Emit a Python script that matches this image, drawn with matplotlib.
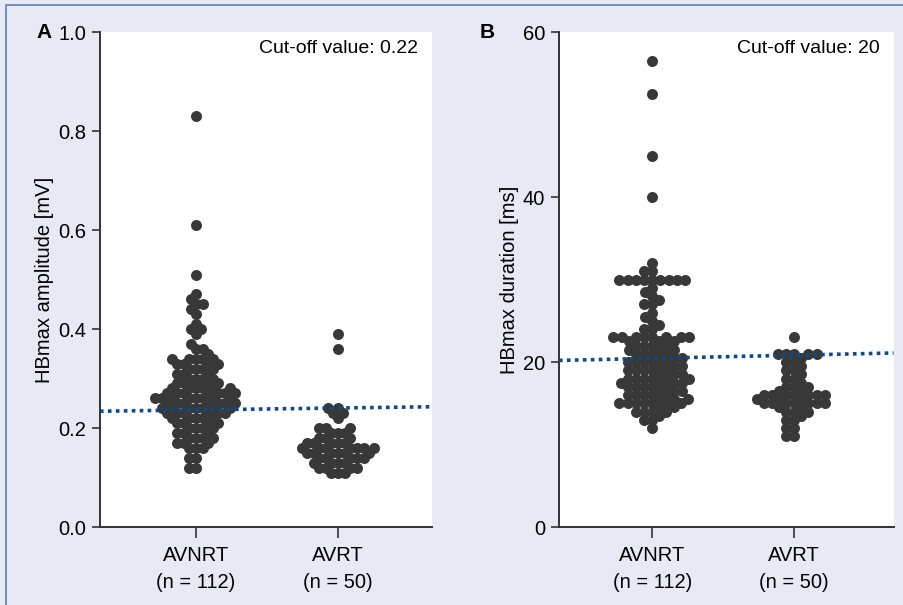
import matplotlib
matplotlib.use("Agg")
import numpy as np
import matplotlib.pyplot as plt
from matplotlib.patches import Rectangle

# data
groups = ["AVNRT", "AVRT"]
tick_labels = ["AVNRT\n(n = 112)", "AVRT\n(n = 50)"]

amp_avnrt = ([0.83, 0.61, 0.51]
             + [0.47, 0.46, 0.45, 0.45, 0.44, 0.43]
             + [0.41, 0.40, 0.40, 0.39]
             + [0.37, 0.36, 0.36, 0.35]
             + [0.34] * 5 + [0.33] * 4 + [0.32] * 4 + [0.31] * 3 + [0.30] * 4
             + [0.29] * 4 + [0.28] * 6 + [0.27] * 7 + [0.26] * 8 + [0.25] * 7
             + [0.24] * 7 + [0.23] * 6 + [0.22] * 5 + [0.21] * 4
             + [0.20] * 4 + [0.19] * 3 + [0.18] * 4 + [0.17] * 3 + [0.16] * 3
             + [0.14] * 2 + [0.12] * 2)
amp_avrt = ([0.39, 0.36]
            + [0.24] * 2 + [0.23] * 2 + [0.22]
            + [0.20] * 3 + [0.19] * 3 + [0.18] * 3
            + [0.17] * 5 + [0.16] * 7 + [0.15] * 6
            + [0.14] * 5 + [0.13] * 4 + [0.12] * 4 + [0.11] * 3)

dur_avnrt = ([56.5, 52.5, 45, 40]
             + [32, 31, 31] + [30] * 9
             + [29, 28.5, 28, 27.5, 27, 27, 26, 25.5, 25, 24.5, 24, 24]
             + [23] * 8 + [22.5] * 3 + [22] * 4 + [21.5] * 3 + [21] * 4
             + [20.5] * 3 + [20] * 5
             + [19.5] * 3 + [19] * 5 + [18.5] * 3 + [18] * 6 + [17.5] * 4
             + [17] * 5 + [16.5] * 3 + [16] * 5
             + [15.5] * 3 + [15] * 7 + [14.5] * 2 + [14] * 4 + [13.5, 13, 13, 12])
dur_avrt = ([23] + [21] * 5 + [20.5] + [20] * 2 + [19.5] + [19] * 2 + [18.5]
            + [18] * 2 + [17.5] + [17] * 3 + [16.5] * 2 + [16] * 7 + [15.5] * 3
            + [15] * 7 + [14.5] * 2 + [14] * 3 + [13.5] + [13] * 2 + [12] * 2 + [11] * 2)

amp_cutoff_line = [0.234, 0.243]
dur_cutoff_line = [20.2, 21.1]

plt.rcParams["font.family"] = ["Liberation Sans", "DejaVu Sans"]
DOT = "#383838"
LINE = "#0b4a8a"
BG = "#e7e9f5"
DOT_PX = 11.0    # marker diameter in pixels

fig = plt.figure(figsize=(9.04, 6.05), dpi=100, facecolor=BG)
fig.patches.append(Rectangle((0.007, -0.05), 1.2, 1.041, transform=fig.transFigure,
                             facecolor="none", edgecolor="#5a7fb8", lw=1.2))

ax1 = fig.add_axes([0.1106, 0.1289, 0.367, 0.818])
ax2 = fig.add_axes([0.6184, 0.1289, 0.370, 0.818])


def swarm_x(ax, values, centre, gap):
    # simple beeswarm: place each point as close to the centre as it can go
    ys = ax.transData.transform(np.column_stack([np.zeros(len(values)), values]))[:, 1]
    unit = ax.transData.transform((1, 0))[0] - ax.transData.transform((0, 0))[0]
    placed = []
    offs = np.zeros(len(values))
    for i in np.argsort(ys, kind="stable"):
        y = ys[i]
        near = [(px, py) for px, py in placed if abs(py - y) < gap]
        cands = [0.0]
        for px, py in near:
            dx = np.sqrt(gap ** 2 - (py - y) ** 2)
            cands += [px - dx, px + dx]
        cands.sort(key=lambda c: (abs(c), c))
        for c in cands:
            if all((c - px) ** 2 + (y - py) ** 2 >= gap ** 2 - 1e-6 for px, py in near):
                break
        placed.append((c, y))
        offs[i] = c
    return centre + offs / unit


def panel(ax, a, b, ylim, yticks, yfmt, ylabel, cutoff, cut_text, letter, xlim, gap):
    ax.set_facecolor("white")
    ax.set_xlim(*xlim)
    ax.set_ylim(*ylim)
    size = (DOT_PX * 72 / fig.dpi) ** 2
    for k, vals in enumerate([a, b]):
        ax.scatter(swarm_x(ax, vals, k, gap), vals, s=size, color=DOT, linewidths=0,
                   zorder=3)
    ax.plot(xlim, cutoff, color=LINE, lw=2.6, ls=(0, (1, 1.2)), zorder=5)
    ax.set_yticks(yticks)
    ax.set_yticklabels([yfmt.format(v) for v in yticks])
    ax.set_xticks([0, 1])
    ax.set_xticklabels(tick_labels, linespacing=1.5)
    for s in ["top", "right"]:
        ax.spines[s].set_visible(False)
    for s in ["left", "bottom"]:
        ax.spines[s].set_color("#333333")
        ax.spines[s].set_linewidth(1.4)
    ax.tick_params(axis="y", length=6, width=1.2, color="#333333", labelsize=14.5, pad=4)
    ax.tick_params(axis="x", length=8, width=1.2, color="#333333", labelsize=14.5, pad=6)
    ax.set_ylabel(ylabel, fontsize=14.5, labelpad=3)
    ax.text(0.96, 0.985, cut_text, transform=ax.transAxes, ha="right", va="top",
            fontsize=14)
    return ax.text(-0.17, 1.0, letter, transform=ax.transAxes, ha="center", va="center",
                   fontsize=15, fontweight="bold")


panel(ax1, amp_avnrt, amp_avrt, (0, 1.0), [0, 0.2, 0.4, 0.6, 0.8, 1.0], "{:.1f}",
      "HBmax amplitude [mV]", amp_cutoff_line, "Cut-off value: 0.22", "A",
      (-0.676, 1.662), 7.0)
lb = panel(ax2, dur_avnrt, dur_avrt, (0, 60), [0, 20, 40, 60], "{:.0f}",
           "HBmax duration [ms]", dur_cutoff_line, "Cut-off value: 20", "B",
           (-0.657, 1.70), 8.2)
lb.set_x(-0.215)

fig.savefig("out.png", dpi=100, facecolor=BG)
